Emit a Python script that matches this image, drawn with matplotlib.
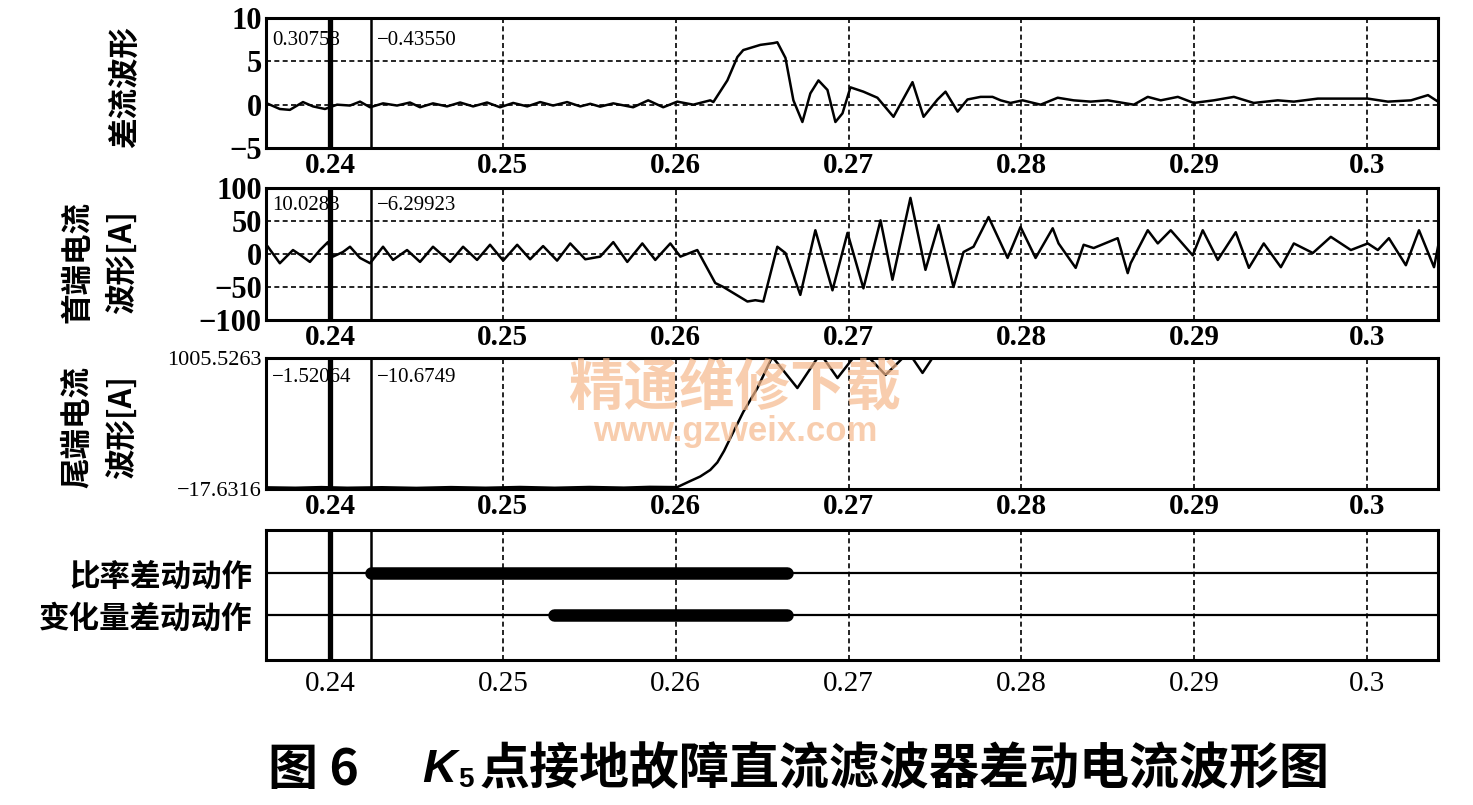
import matplotlib
matplotlib.use("Agg")
import matplotlib.pyplot as plt

SERIF = "Liberation Serif"
CJK = ["Noto Sans CJK SC", "DejaVu Sans"]

# shared time axis
tick_t = [0.24, 0.25, 0.26, 0.27, 0.28, 0.29, 0.30]
tick_labels = ["0.24", "0.25", "0.26", "0.27", "0.28", "0.29", "0.3"]
t_min, t_max = 0.2363, 0.3041
cursor_t = [0.24, 0.24237]

# differential current waveform
diff_t = [0.23641, 0.23710, 0.23768, 0.23844, 0.23902, 0.23971, 0.24041, 0.24116,
          0.24174, 0.24232, 0.24307, 0.24388, 0.24463, 0.24521, 0.24596, 0.24677,
          0.24753, 0.24828, 0.24909, 0.24984, 0.25060, 0.25141, 0.25216, 0.25291,
          0.25372, 0.25448, 0.25506, 0.25563, 0.25639, 0.25754, 0.25841, 0.25928,
          0.26009, 0.26102, 0.26200, 0.26218, 0.26299, 0.26357, 0.26391, 0.26490,
          0.26565, 0.26588, 0.26635, 0.26681, 0.26733, 0.26779, 0.26826, 0.26878,
          0.26924, 0.26965, 0.27011, 0.27086, 0.27167, 0.27260, 0.27370, 0.27434,
          0.27515, 0.27561, 0.27631, 0.27688, 0.27764, 0.27833, 0.27880, 0.27937,
          0.28007, 0.28111, 0.28210, 0.28302, 0.28401, 0.28499, 0.28650, 0.28731,
          0.28806, 0.28905, 0.28997, 0.29113, 0.29229, 0.29344, 0.29483, 0.29576,
          0.29715, 0.29866, 0.30004, 0.30120, 0.30254, 0.30352, 0.30410]
diff_i = [0.1, -0.5, -0.6, 0.3, -0.2, -0.5, 0.0, -0.1,
          0.35, -0.3, 0.15, -0.1, 0.25, -0.3, 0.15, -0.2,
          0.25, -0.2, 0.25, -0.3, 0.2, -0.2, 0.3, -0.1,
          0.3, -0.2, 0.1, -0.23, 0.15, -0.3, 0.5, -0.3,
          0.35, 0.0, 0.5, 0.3, 2.8, 5.5, 6.3, 6.9,
          7.1, 7.2, 5.4, 0.5, -2.0, 1.3, 2.8, 1.7,
          -2.0, -1.0, 2.0, 1.5, 0.8, -1.4, 2.6, -1.4,
          0.6, 1.5, -0.8, 0.6, 0.9, 0.9, 0.5, 0.2,
          0.5, 0.0, 0.8, 0.5, 0.35, 0.5, 0.0, 0.9,
          0.5, 0.9, 0.2, 0.5, 0.9, 0.2, 0.5, 0.35,
          0.7, 0.7, 0.7, 0.35, 0.5, 1.1, 0.35]

# head-end current waveform [A]
head_t = [0.23641, 0.23710, 0.23786, 0.23826, 0.23884, 0.23942, 0.23988, 0.24017,
          0.24075, 0.24116, 0.24174, 0.24232, 0.24307, 0.24365, 0.24446, 0.24521,
          0.24596, 0.24695, 0.24770, 0.24851, 0.24926, 0.25002, 0.25083, 0.25158,
          0.25233, 0.25314, 0.25390, 0.25477, 0.25563, 0.25639, 0.25720, 0.25807,
          0.25882, 0.25969, 0.26027, 0.26125, 0.26229, 0.26276, 0.26415, 0.26461,
          0.26507, 0.26588, 0.26635, 0.26721, 0.26808, 0.26907, 0.26994, 0.27086,
          0.27185, 0.27254, 0.27358, 0.27445, 0.27521, 0.27607, 0.27665, 0.27723,
          0.27810, 0.27920, 0.27995, 0.28082, 0.28181, 0.28215, 0.28314, 0.28360,
          0.28418, 0.28557, 0.28615, 0.28632, 0.28731, 0.28789, 0.28864, 0.28991,
          0.29049, 0.29136, 0.29240, 0.29316, 0.29402, 0.29501, 0.29576, 0.29686,
          0.29790, 0.29906, 0.30004, 0.30062, 0.30126, 0.30224, 0.30300, 0.30387,
          0.30410]
head_i = [11, -14, 6, -1, -12, 6, 18, -4,
          3, 11, -6, -14, 11, -9, 6, -12,
          11, -12, 11, -9, 14, -10, 14, -8,
          12, -10, 16, -8, -4, 18, -12, 16,
          -9, 16, -4, 6, -44, -50, -72, -70,
          -72, 11, 1.5, -62, 36, -55, 32, -52,
          51, -39, 85, -24, 44, -50, 3, 11,
          56, -6, 41, -6, 39, 16, -21, 14,
          9, 24, -29, -14, 36, 16, 36, -2,
          36, -9, 33, -21, 16, -20, 16, 1.5,
          26, 6, 16, 6, 24, -17, 36, -20,
          11]

# tail-end current waveform [A]
tail_t = [0.23641, 0.2380, 0.2395, 0.2410, 0.2430, 0.2450, 0.2470, 0.2490,
          0.2510, 0.2530, 0.2550, 0.2570, 0.2585, 0.26009, 0.26085, 0.26142,
          0.26200, 0.26241, 0.26280, 0.26316, 0.26391, 0.26473, 0.26559, 0.26704,
          0.26837, 0.26936, 0.27069, 0.27214, 0.27347, 0.27428, 0.27532, 0.28000,
          0.30410]
tail_i = [-5, -8, -3, -8, -4, -9, -3, -8,
          -2, -8, -2, -7, -1, -3, 45, 80,
          131, 190, 280, 380, 584, 771, 1015, 771,
          1040, 849, 1080, 873, 1050, 889, 1100, 1150,
          1150]

# relay pickup intervals (start, end)
ratio_on = [0.24237, 0.26646]
delta_on = [0.25297, 0.26646]
relay_labels = ["比率差动动作", "变化量差动动作"]

readouts = [("0.30758", "\u22120.43550"),
            ("10.0283", "\u22126.29923"),
            ("\u22121.52064", "\u221210.6749")]

fig = plt.figure(figsize=(14.73, 8.05), dpi=100)
W, H = 1473.0, 805.0


def add_panel(top, bottom):
    left, right = 266, 1438
    return fig.add_axes([left / W, 1 - bottom / H, (right - left) / W, (bottom - top) / H])


dash = (0, (3, 2))


def style(ax, ygrid=True, xlab_font=SERIF, xlab_weight="bold"):
    ax.set_xlim(t_min, t_max)
    ax.set_xticks(tick_t)
    ax.set_xticklabels(tick_labels, fontfamily=xlab_font, fontweight=xlab_weight, fontsize=21)
    ax.tick_params(length=0, pad=3)
    ax.grid(True, axis="x", ls=dash, color="k", lw=1.2)
    if ygrid:
        ax.grid(True, axis="y", ls=dash, color="k", lw=1.2)
    for s in ax.spines.values():
        s.set_linewidth(2.2)
    for c, lw in zip(cursor_t, [3.8, 1.8]):
        ax.axvline(c, color="k", lw=lw, zorder=5)


ax1 = add_panel(18, 148)
ax1.plot(diff_t, diff_i, color="k", lw=1.8)
ax1.set_ylim(-5, 10)
ax1.set_yticks([10, 5, 0, -5])
ax1.set_yticklabels(["10", "5", "0", "\u22125"], fontfamily=SERIF, fontweight="bold", fontsize=22)
style(ax1)

ax2 = add_panel(188, 320)
ax2.plot(head_t, head_i, color="k", lw=1.8)
ax2.set_ylim(-100, 100)
ax2.set_yticks([100, 50, 0, -50, -100])
ax2.set_yticklabels(["100", "50", "0", "\u221250", "\u2212100"], fontfamily=SERIF,
                    fontweight="bold", fontsize=22)
style(ax2)

ax3 = add_panel(358, 489)
ax3.plot(tail_t, tail_i, color="k", lw=1.8)
ax3.set_ylim(-17.6316, 1005.5263)
ax3.set_yticks([1005.5263, -17.6316])
ax3.set_yticklabels(["1005.5263", "\u221217.6316"], fontfamily=SERIF, fontsize=16)
style(ax3, ygrid=False)

for ax, (a, b), yf in zip([ax1, ax2, ax3], readouts, [0.83, 0.87, 0.85]):
    tr = ax.get_xaxis_transform()
    ax.text(0.23664, yf, a, transform=tr, ha="left", va="center",
            fontfamily=SERIF, fontsize=15, zorder=3)
    ax.text(0.24272, yf, b, transform=tr, ha="left", va="center",
            fontfamily=SERIF, fontsize=15, zorder=3)

ax4 = add_panel(530, 660)
ax4.set_ylim(-1.07, 2.02)
for row, on in zip([1, 0], [ratio_on, delta_on]):
    ax4.plot([t_min, t_max], [row, row], color="k", lw=1.6)
    ax4.plot(on, [row, row], color="k", lw=9, solid_capstyle="round")
ax4.set_yticks([1, 0])
ax4.set_yticklabels(relay_labels, fontfamily=CJK, fontweight="bold", fontsize=22)
style(ax4, ygrid=False, xlab_weight="normal")
ax4.tick_params(axis="x", pad=8)
ax4.tick_params(axis="y", pad=10)

# y-axis captions
fig.text(125 / W, 1 - 87 / H, "差流波形", rotation=90, ha="center", va="center",
         fontfamily=CJK, fontweight="bold", fontsize=22)
fig.text(100 / W, 1 - 262 / H, "首端电流\n波形[A]", rotation=90, ha="center", va="center",
         fontfamily=CJK, fontweight="bold", fontsize=22, linespacing=1.5)
fig.text(100 / W, 1 - 427 / H, "尾端电流\n波形[A]", rotation=90, ha="center", va="center",
         fontfamily=CJK, fontweight="bold", fontsize=22, linespacing=1.5)

# watermark
fig.text(735 / W, 1 - 388 / H, "精通维修下载", ha="center", va="center", fontfamily=CJK,
         fontweight="bold", fontsize=40, color="#f6b98c", alpha=0.7, zorder=10)
fig.text(735 / W, 1 - 432 / H, "www.gzweix.com", ha="center", va="center",
         fontfamily="Liberation Sans", fontweight="bold", fontsize=25, color="#f6b98c",
         alpha=0.7, zorder=10)

# caption
ty = 1 - 770 / H
fig.text(268 / W, ty, "图 6", ha="left", va="center", fontfamily=CJK, fontweight="bold", fontsize=36)
fig.text(422 / W, ty, "K", ha="left", va="center", fontfamily="Liberation Sans",
         fontweight="bold", style="italic", fontsize=34)
fig.text(458 / W, ty - 0.012, "5", ha="left", va="center", fontfamily="Liberation Sans",
         fontweight="bold", fontsize=20)
fig.text(480 / W, ty, "点接地故障直流滤波器差动电流波形图", ha="left", va="center",
         fontfamily=CJK, fontweight="bold", fontsize=36)

fig.savefig("out.png", dpi=100)
